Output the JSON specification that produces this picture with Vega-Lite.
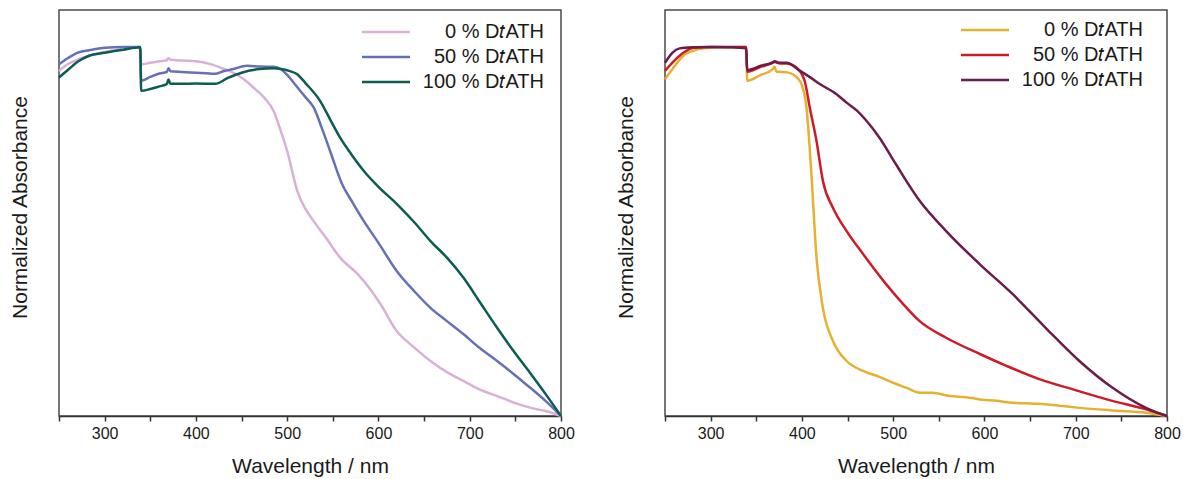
{
  "$schema": "https://vega.github.io/schema/vega-lite/v6.json",
  "padding": {"left": 8, "top": 9, "right": 5, "bottom": 5},
  "background": "white",
  "config": {
    "font": "Liberation Sans",
    "view": {"stroke": "#4a4a4a", "strokeWidth": 1.5},
    "axis": {"labelFont": "Liberation Sans", "titleFont": "Liberation Sans", "labelColor": "#1a1a1a", "titleColor": "#1a1a1a", "titleFontWeight": "normal", "grid": false},
    "legend": {"labelFont": "Liberation Sans", "labelFontSize": 20, "labelColor": "#1a1a1a", "padding": 0}
  },
  "bounds": "flush",
  "spacing": 104,
  "datasets": {
    "left": [
      {"wl":250,"v":0.935,"s":"0 % D𝑡ATH"},{"wl":260,"v":0.954,"s":"0 % D𝑡ATH"},{"wl":270,"v":0.965,"s":"0 % D𝑡ATH"},{"wl":283,"v":0.976,"s":"0 % D𝑡ATH"},{"wl":300,"v":0.986,"s":"0 % D𝑡ATH"},{"wl":320,"v":0.994,"s":"0 % D𝑡ATH"},{"wl":339,"v":1.0,"s":"0 % D𝑡ATH"},{"wl":340,"v":0.953,"s":"0 % D𝑡ATH"},{"wl":350,"v":0.957,"s":"0 % D𝑡ATH"},{"wl":360,"v":0.961,"s":"0 % D𝑡ATH"},{"wl":368,"v":0.964,"s":"0 % D𝑡ATH"},{"wl":370,"v":0.970,"s":"0 % D𝑡ATH"},{"wl":372,"v":0.965,"s":"0 % D𝑡ATH"},{"wl":385,"v":0.963,"s":"0 % D𝑡ATH"},{"wl":400,"v":0.961,"s":"0 % D𝑡ATH"},{"wl":415,"v":0.954,"s":"0 % D𝑡ATH"},{"wl":427,"v":0.944,"s":"0 % D𝑡ATH"},{"wl":441,"v":0.930,"s":"0 % D𝑡ATH"},{"wl":452,"v":0.913,"s":"0 % D𝑡ATH"},{"wl":463,"v":0.890,"s":"0 % D𝑡ATH"},{"wl":475,"v":0.862,"s":"0 % D𝑡ATH"},{"wl":485,"v":0.827,"s":"0 % D𝑡ATH"},{"wl":493,"v":0.772,"s":"0 % D𝑡ATH"},{"wl":500,"v":0.718,"s":"0 % D𝑡ATH"},{"wl":511,"v":0.610,"s":"0 % D𝑡ATH"},{"wl":520,"v":0.561,"s":"0 % D𝑡ATH"},{"wl":529,"v":0.528,"s":"0 % D𝑡ATH"},{"wl":545,"v":0.474,"s":"0 % D𝑡ATH"},{"wl":558,"v":0.429,"s":"0 % D𝑡ATH"},{"wl":577,"v":0.385,"s":"0 % D𝑡ATH"},{"wl":590,"v":0.347,"s":"0 % D𝑡ATH"},{"wl":602,"v":0.304,"s":"0 % D𝑡ATH"},{"wl":620,"v":0.230,"s":"0 % D𝑡ATH"},{"wl":640,"v":0.184,"s":"0 % D𝑡ATH"},{"wl":657,"v":0.149,"s":"0 % D𝑡ATH"},{"wl":675,"v":0.119,"s":"0 % D𝑡ATH"},{"wl":693,"v":0.095,"s":"0 % D𝑡ATH"},{"wl":710,"v":0.073,"s":"0 % D𝑡ATH"},{"wl":730,"v":0.054,"s":"0 % D𝑡ATH"},{"wl":750,"v":0.035,"s":"0 % D𝑡ATH"},{"wl":767,"v":0.022,"s":"0 % D𝑡ATH"},{"wl":785,"v":0.012,"s":"0 % D𝑡ATH"},{"wl":800,"v":0.0,"s":"0 % D𝑡ATH"},

      {"wl":250,"v":0.953,"s":"50 % D𝑡ATH"},{"wl":260,"v":0.970,"s":"50 % D𝑡ATH"},{"wl":270,"v":0.984,"s":"50 % D𝑡ATH"},{"wl":283,"v":0.991,"s":"50 % D𝑡ATH"},{"wl":301,"v":0.998,"s":"50 % D𝑡ATH"},{"wl":320,"v":1.0,"s":"50 % D𝑡ATH"},{"wl":339,"v":1.0,"s":"50 % D𝑡ATH"},{"wl":340,"v":0.908,"s":"50 % D𝑡ATH"},{"wl":350,"v":0.919,"s":"50 % D𝑡ATH"},{"wl":360,"v":0.928,"s":"50 % D𝑡ATH"},{"wl":368,"v":0.932,"s":"50 % D𝑡ATH"},{"wl":370,"v":0.942,"s":"50 % D𝑡ATH"},{"wl":372,"v":0.934,"s":"50 % D𝑡ATH"},{"wl":385,"v":0.932,"s":"50 % D𝑡ATH"},{"wl":400,"v":0.930,"s":"50 % D𝑡ATH"},{"wl":415,"v":0.928,"s":"50 % D𝑡ATH"},{"wl":421,"v":0.927,"s":"50 % D𝑡ATH"},{"wl":430,"v":0.934,"s":"50 % D𝑡ATH"},{"wl":441,"v":0.940,"s":"50 % D𝑡ATH"},{"wl":456,"v":0.949,"s":"50 % D𝑡ATH"},{"wl":470,"v":0.947,"s":"50 % D𝑡ATH"},{"wl":485,"v":0.946,"s":"50 % D𝑡ATH"},{"wl":493,"v":0.940,"s":"50 % D𝑡ATH"},{"wl":500,"v":0.924,"s":"50 % D𝑡ATH"},{"wl":510,"v":0.894,"s":"50 % D𝑡ATH"},{"wl":520,"v":0.864,"s":"50 % D𝑡ATH"},{"wl":529,"v":0.836,"s":"50 % D𝑡ATH"},{"wl":538,"v":0.780,"s":"50 % D𝑡ATH"},{"wl":547,"v":0.718,"s":"50 % D𝑡ATH"},{"wl":560,"v":0.629,"s":"50 % D𝑡ATH"},{"wl":572,"v":0.577,"s":"50 % D𝑡ATH"},{"wl":584,"v":0.528,"s":"50 % D𝑡ATH"},{"wl":600,"v":0.469,"s":"50 % D𝑡ATH"},{"wl":620,"v":0.393,"s":"50 % D𝑡ATH"},{"wl":640,"v":0.336,"s":"50 % D𝑡ATH"},{"wl":657,"v":0.293,"s":"50 % D𝑡ATH"},{"wl":675,"v":0.257,"s":"50 % D𝑡ATH"},{"wl":693,"v":0.222,"s":"50 % D𝑡ATH"},{"wl":711,"v":0.184,"s":"50 % D𝑡ATH"},{"wl":730,"v":0.149,"s":"50 % D𝑡ATH"},{"wl":748,"v":0.114,"s":"50 % D𝑡ATH"},{"wl":766,"v":0.077,"s":"50 % D𝑡ATH"},{"wl":783,"v":0.041,"s":"50 % D𝑡ATH"},{"wl":800,"v":0.0,"s":"50 % D𝑡ATH"},

      {"wl":250,"v":0.917,"s":"100 % D𝑡ATH"},{"wl":260,"v":0.938,"s":"100 % D𝑡ATH"},{"wl":270,"v":0.959,"s":"100 % D𝑡ATH"},{"wl":283,"v":0.976,"s":"100 % D𝑡ATH"},{"wl":300,"v":0.984,"s":"100 % D𝑡ATH"},{"wl":320,"v":0.992,"s":"100 % D𝑡ATH"},{"wl":339,"v":0.999,"s":"100 % D𝑡ATH"},{"wl":340,"v":0.881,"s":"100 % D𝑡ATH"},{"wl":350,"v":0.886,"s":"100 % D𝑡ATH"},{"wl":360,"v":0.893,"s":"100 % D𝑡ATH"},{"wl":368,"v":0.899,"s":"100 % D𝑡ATH"},{"wl":370,"v":0.912,"s":"100 % D𝑡ATH"},{"wl":372,"v":0.900,"s":"100 % D𝑡ATH"},{"wl":385,"v":0.900,"s":"100 % D𝑡ATH"},{"wl":400,"v":0.901,"s":"100 % D𝑡ATH"},{"wl":421,"v":0.900,"s":"100 % D𝑡ATH"},{"wl":435,"v":0.916,"s":"100 % D𝑡ATH"},{"wl":450,"v":0.930,"s":"100 % D𝑡ATH"},{"wl":470,"v":0.940,"s":"100 % D𝑡ATH"},{"wl":485,"v":0.942,"s":"100 % D𝑡ATH"},{"wl":493,"v":0.940,"s":"100 % D𝑡ATH"},{"wl":502,"v":0.935,"s":"100 % D𝑡ATH"},{"wl":511,"v":0.926,"s":"100 % D𝑡ATH"},{"wl":520,"v":0.902,"s":"100 % D𝑡ATH"},{"wl":536,"v":0.854,"s":"100 % D𝑡ATH"},{"wl":548,"v":0.799,"s":"100 % D𝑡ATH"},{"wl":558,"v":0.754,"s":"100 % D𝑡ATH"},{"wl":570,"v":0.710,"s":"100 % D𝑡ATH"},{"wl":584,"v":0.664,"s":"100 % D𝑡ATH"},{"wl":600,"v":0.621,"s":"100 % D𝑡ATH"},{"wl":620,"v":0.575,"s":"100 % D𝑡ATH"},{"wl":640,"v":0.523,"s":"100 % D𝑡ATH"},{"wl":657,"v":0.474,"s":"100 % D𝑡ATH"},{"wl":675,"v":0.429,"s":"100 % D𝑡ATH"},{"wl":693,"v":0.375,"s":"100 % D𝑡ATH"},{"wl":711,"v":0.309,"s":"100 % D𝑡ATH"},{"wl":730,"v":0.239,"s":"100 % D𝑡ATH"},{"wl":748,"v":0.176,"s":"100 % D𝑡ATH"},{"wl":767,"v":0.114,"s":"100 % D𝑡ATH"},{"wl":783,"v":0.060,"s":"100 % D𝑡ATH"},{"wl":800,"v":0.0,"s":"100 % D𝑡ATH"}
    ],
    "right": [
      {"wl":250,"v":0.912,"s":"0 % D𝑡ATH"},{"wl":260,"v":0.946,"s":"0 % D𝑡ATH"},{"wl":270,"v":0.976,"s":"0 % D𝑡ATH"},{"wl":280,"v":0.989,"s":"0 % D𝑡ATH"},{"wl":292,"v":0.996,"s":"0 % D𝑡ATH"},{"wl":310,"v":0.999,"s":"0 % D𝑡ATH"},{"wl":339,"v":1.0,"s":"0 % D𝑡ATH"},{"wl":340,"v":0.908,"s":"0 % D𝑡ATH"},{"wl":355,"v":0.924,"s":"0 % D𝑡ATH"},{"wl":368,"v":0.940,"s":"0 % D𝑡ATH"},{"wl":370,"v":0.946,"s":"0 % D𝑡ATH"},{"wl":372,"v":0.933,"s":"0 % D𝑡ATH"},{"wl":376,"v":0.933,"s":"0 % D𝑡ATH"},{"wl":384,"v":0.931,"s":"0 % D𝑡ATH"},{"wl":390,"v":0.926,"s":"0 % D𝑡ATH"},{"wl":395,"v":0.916,"s":"0 % D𝑡ATH"},{"wl":399.5,"v":0.899,"s":"0 % D𝑡ATH"},{"wl":405,"v":0.836,"s":"0 % D𝑡ATH"},{"wl":410.4,"v":0.656,"s":"0 % D𝑡ATH"},{"wl":416,"v":0.429,"s":"0 % D𝑡ATH"},{"wl":423,"v":0.293,"s":"0 % D𝑡ATH"},{"wl":434,"v":0.203,"s":"0 % D𝑡ATH"},{"wl":449,"v":0.149,"s":"0 % D𝑡ATH"},{"wl":467,"v":0.122,"s":"0 % D𝑡ATH"},{"wl":485,"v":0.106,"s":"0 % D𝑡ATH"},{"wl":500,"v":0.090,"s":"0 % D𝑡ATH"},{"wl":515,"v":0.076,"s":"0 % D𝑡ATH"},{"wl":529,"v":0.063,"s":"0 % D𝑡ATH"},{"wl":543,"v":0.063,"s":"0 % D𝑡ATH"},{"wl":562,"v":0.054,"s":"0 % D𝑡ATH"},{"wl":580,"v":0.051,"s":"0 % D𝑡ATH"},{"wl":595,"v":0.045,"s":"0 % D𝑡ATH"},{"wl":613,"v":0.041,"s":"0 % D𝑡ATH"},{"wl":631,"v":0.036,"s":"0 % D𝑡ATH"},{"wl":650,"v":0.034,"s":"0 % D𝑡ATH"},{"wl":667,"v":0.032,"s":"0 % D𝑡ATH"},{"wl":685,"v":0.027,"s":"0 % D𝑡ATH"},{"wl":704,"v":0.022,"s":"0 % D𝑡ATH"},{"wl":740,"v":0.015,"s":"0 % D𝑡ATH"},{"wl":777,"v":0.009,"s":"0 % D𝑡ATH"},{"wl":800,"v":0.0,"s":"0 % D𝑡ATH"},

      {"wl":250,"v":0.935,"s":"50 % D𝑡ATH"},{"wl":260,"v":0.962,"s":"50 % D𝑡ATH"},{"wl":270,"v":0.984,"s":"50 % D𝑡ATH"},{"wl":281,"v":0.998,"s":"50 % D𝑡ATH"},{"wl":300,"v":1.0,"s":"50 % D𝑡ATH"},{"wl":339,"v":1.0,"s":"50 % D𝑡ATH"},{"wl":340,"v":0.933,"s":"50 % D𝑡ATH"},{"wl":355,"v":0.946,"s":"50 % D𝑡ATH"},{"wl":368,"v":0.957,"s":"50 % D𝑡ATH"},{"wl":370,"v":0.959,"s":"50 % D𝑡ATH"},{"wl":376,"v":0.955,"s":"50 % D𝑡ATH"},{"wl":383,"v":0.955,"s":"50 % D𝑡ATH"},{"wl":394,"v":0.944,"s":"50 % D𝑡ATH"},{"wl":403,"v":0.908,"s":"50 % D𝑡ATH"},{"wl":408.6,"v":0.836,"s":"50 % D𝑡ATH"},{"wl":416,"v":0.745,"s":"50 % D𝑡ATH"},{"wl":423,"v":0.637,"s":"50 % D𝑡ATH"},{"wl":434,"v":0.564,"s":"50 % D𝑡ATH"},{"wl":449,"v":0.501,"s":"50 % D𝑡ATH"},{"wl":467,"v":0.439,"s":"50 % D𝑡ATH"},{"wl":492,"v":0.358,"s":"50 % D𝑡ATH"},{"wl":510,"v":0.306,"s":"50 % D𝑡ATH"},{"wl":529,"v":0.257,"s":"50 % D𝑡ATH"},{"wl":558,"v":0.212,"s":"50 % D𝑡ATH"},{"wl":595,"v":0.168,"s":"50 % D𝑡ATH"},{"wl":624,"v":0.136,"s":"50 % D𝑡ATH"},{"wl":660,"v":0.100,"s":"50 % D𝑡ATH"},{"wl":697,"v":0.072,"s":"50 % D𝑡ATH"},{"wl":740,"v":0.041,"s":"50 % D𝑡ATH"},{"wl":777,"v":0.018,"s":"50 % D𝑡ATH"},{"wl":800,"v":0.0,"s":"50 % D𝑡ATH"},

      {"wl":250,"v":0.957,"s":"100 % D𝑡ATH"},{"wl":258,"v":0.984,"s":"100 % D𝑡ATH"},{"wl":266,"v":0.996,"s":"100 % D𝑡ATH"},{"wl":280,"v":0.999,"s":"100 % D𝑡ATH"},{"wl":300,"v":1.0,"s":"100 % D𝑡ATH"},{"wl":320,"v":0.999,"s":"100 % D𝑡ATH"},{"wl":339,"v":0.996,"s":"100 % D𝑡ATH"},{"wl":340,"v":0.937,"s":"100 % D𝑡ATH"},{"wl":355,"v":0.949,"s":"100 % D𝑡ATH"},{"wl":368,"v":0.958,"s":"100 % D𝑡ATH"},{"wl":370,"v":0.961,"s":"100 % D𝑡ATH"},{"wl":376,"v":0.957,"s":"100 % D𝑡ATH"},{"wl":383,"v":0.957,"s":"100 % D𝑡ATH"},{"wl":398,"v":0.935,"s":"100 % D𝑡ATH"},{"wl":410,"v":0.916,"s":"100 % D𝑡ATH"},{"wl":420,"v":0.899,"s":"100 % D𝑡ATH"},{"wl":438,"v":0.872,"s":"100 % D𝑡ATH"},{"wl":449,"v":0.849,"s":"100 % D𝑡ATH"},{"wl":460,"v":0.828,"s":"100 % D𝑡ATH"},{"wl":470,"v":0.802,"s":"100 % D𝑡ATH"},{"wl":485,"v":0.754,"s":"100 % D𝑡ATH"},{"wl":503,"v":0.682,"s":"100 % D𝑡ATH"},{"wl":529,"v":0.583,"s":"100 % D𝑡ATH"},{"wl":558,"v":0.501,"s":"100 % D𝑡ATH"},{"wl":595,"v":0.411,"s":"100 % D𝑡ATH"},{"wl":631,"v":0.330,"s":"100 % D𝑡ATH"},{"wl":667,"v":0.239,"s":"100 % D𝑡ATH"},{"wl":704,"v":0.149,"s":"100 % D𝑡ATH"},{"wl":740,"v":0.077,"s":"100 % D𝑡ATH"},{"wl":777,"v":0.022,"s":"100 % D𝑡ATH"},{"wl":800,"v":0.0,"s":"100 % D𝑡ATH"}
    ]
  },
  "hconcat": [
    {
      "width": 502, "height": 406,
      "data": {"name": "left"},
      "mark": {"type": "line", "strokeWidth": 2.5, "interpolate": "monotone"},
      "encoding": {
        "x": {"field": "wl", "type": "quantitative", "scale": {"domain": [250, 800], "nice": false, "zero": false},
              "axis": {"title": "Wavelength / nm", "values": [250,300,350,400,450,500,550,600,650,700,750,800], "labelExpr": "datum.value % 100 === 0 ? datum.label : ''", "labelFontSize": 16, "titleFontSize": 21, "titlePadding": 14, "tickSize": 5, "tickWidth": 1.5, "tickColor": "#333", "domainColor": "#333", "domainWidth": 1.5, "labelPadding": 4, "labelFlush": false}},
        "y": {"field": "v", "type": "quantitative", "scale": {"domain": [0, 1.1], "nice": false},
              "axis": {"title": "Normalized Absorbance", "labels": false, "ticks": false, "domain": false, "titleFontSize": 21, "titlePadding": 29, "titleY": 197}},
        "color": {"field": "s", "type": "nominal", "sort": null,
                  "scale": {"domain": ["0 % D𝑡ATH", "50 % D𝑡ATH", "100 % D𝑡ATH"], "range": ["#D9B0D8", "#6670B4", "#0C5C52"]},
                  "legend": {"title": null, "orient": "none", "legendX": 317, "legendY": 12, "symbolType": "M-3,0H3", "symbolSize": 256, "symbolStrokeWidth": 2.5, "labelAlign": "right", "labelOffset": 148, "rowPadding": 5}}
      }
    },
    {
      "width": 502, "height": 406,
      "data": {"name": "right"},
      "mark": {"type": "line", "strokeWidth": 2.5, "interpolate": "monotone"},
      "encoding": {
        "x": {"field": "wl", "type": "quantitative", "scale": {"domain": [250, 800], "nice": false, "zero": false},
              "axis": {"title": "Wavelength / nm", "values": [250,300,350,400,450,500,550,600,650,700,750,800], "labelExpr": "datum.value % 100 === 0 ? datum.label : ''", "labelFontSize": 16, "titleFontSize": 21, "titlePadding": 14, "tickSize": 5, "tickWidth": 1.5, "tickColor": "#333", "domainColor": "#333", "domainWidth": 1.5, "labelPadding": 4, "labelFlush": false}},
        "y": {"field": "v", "type": "quantitative", "scale": {"domain": [0, 1.1], "nice": false},
              "axis": {"title": "Normalized Absorbance", "labels": false, "ticks": false, "domain": false, "titleFontSize": 21, "titlePadding": 29, "titleY": 197}},
        "color": {"field": "s", "type": "nominal", "sort": null,
                  "scale": {"domain": ["0 % D𝑡ATH", "50 % D𝑡ATH", "100 % D𝑡ATH"], "range": ["#E8B030", "#CC1C28", "#6C1C48"]},
                  "legend": {"title": null, "orient": "none", "legendX": 310, "legendY": 10, "symbolType": "M-3,0H3", "symbolSize": 256, "symbolStrokeWidth": 2.5, "labelAlign": "right", "labelOffset": 148, "rowPadding": 5}}
      }
    }
  ],
  "resolve": {"scale": {"color": "independent"}, "legend": {"color": "independent"}}
}
